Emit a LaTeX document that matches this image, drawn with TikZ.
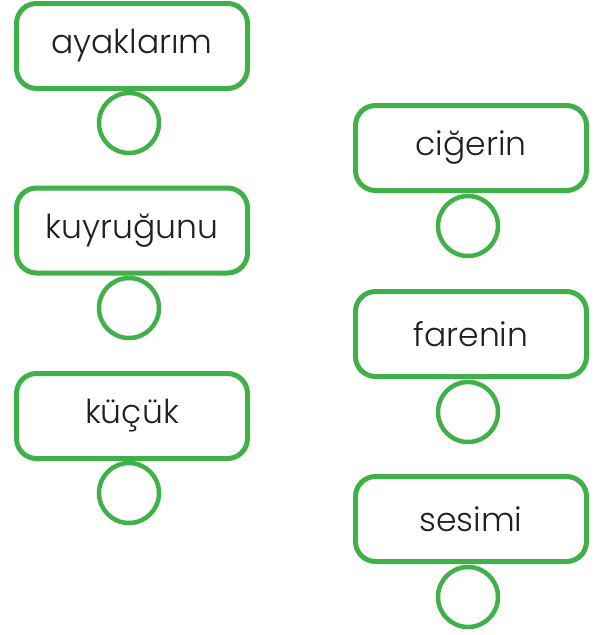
\documentclass[tikz,border=0pt]{standalone}
\usepackage{fontspec}
\IfFontExistsTF{Poppins Light}{\setmainfont{Poppins Light}}{\setmainfont{Poppins}}
\definecolor{boxgreen}{RGB}{64,176,73}
\definecolor{txt}{RGB}{35,31,32}
\tikzset{
  wordbox/.style={draw=boxgreen, line width=5pt, rounded corners=20pt, fill=white,
    minimum width=231pt, minimum height=85pt, text=txt, font=\fontsize{33}{38}\selectfont},
  answer/.style={draw=boxgreen, line width=4.5pt, circle, minimum size=60pt, inner sep=0pt, fill=white}
}
\begin{document}
\begin{tikzpicture}[x=1pt,y=-1pt]
\useasboundingbox (0,0) rectangle (597,635);
\node[answer] (c1) at (129,123) {};
\node[answer] (c2) at (129,308) {};
\node[answer] (c3) at (129,493) {};
\node[answer] (c4) at (468,226) {};
\node[answer] (c5) at (468,412) {};
\node[answer] (c6) at (468,597) {};
\node[wordbox] (b1) at (132,46) {ayaklarım};
\node[wordbox] (b2) at (132,230.5) {kuyruğunu};
\node[wordbox] (b3) at (132,416) {küçük};
\node[wordbox] (b4) at (471,148) {ciğerin};
\node[wordbox] (b5) at (471,334) {farenin};
\node[wordbox] (b6) at (471,519) {sesimi};
\end{tikzpicture}
\end{document}
